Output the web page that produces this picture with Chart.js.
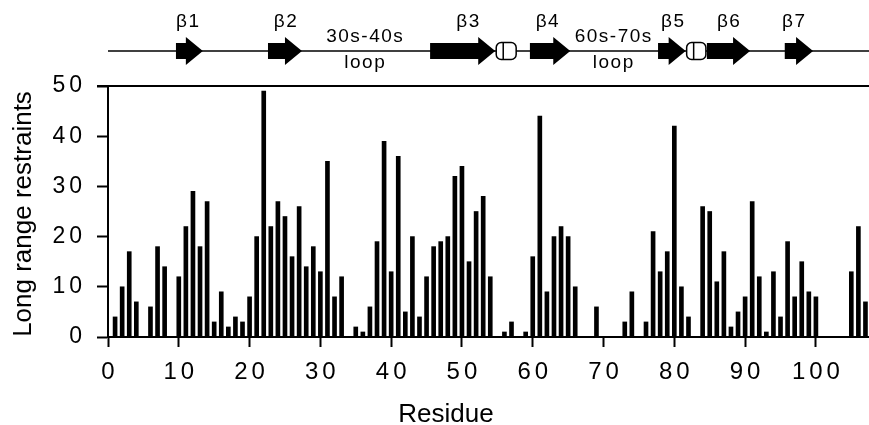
<!DOCTYPE html>
<html>
<head>
<meta charset="utf-8">
<script src="https://cdn.jsdelivr.net/npm/chart.js@4/dist/chart.umd.min.js"></script>
<style>
  body { margin: 0; background: #fff; }
</style>
</head>
<body>
<canvas id="chart" width="869" height="425"></canvas>
<script>
// residues with at least one long range restraint, and the counts
const residues = [1, 2, 3, 4, 6, 7, 8, 10, 11, 12, 13, 14, 15, 16, 17, 18, 19, 20,
  21, 22, 23, 24, 25, 26, 27, 28, 29, 30, 31, 32, 33, 35, 36, 37, 38, 39, 40,
  41, 42, 43, 44, 45, 46, 47, 48, 49, 50, 51, 52, 53, 54, 56, 57, 59, 60,
  61, 62, 63, 64, 65, 66, 69, 73, 74, 76, 77, 78, 79, 80,
  81, 82, 84, 85, 86, 87, 88, 89, 90, 91, 92, 93, 94, 95, 96, 97, 98, 99, 100,
  105, 106, 107];
const restraints = [4, 10, 17, 7, 6, 18, 14, 12, 22, 29, 18, 27, 3, 9, 2, 4, 3, 8,
  20, 49, 22, 27, 24, 16, 26, 14, 18, 13, 35, 8, 12, 2, 1, 6, 19, 39, 13,
  36, 5, 20, 4, 12, 18, 19, 20, 32, 34, 15, 25, 28, 12, 1, 3, 1, 16,
  44, 9, 20, 22, 20, 10, 6, 3, 9, 3, 21, 13, 17, 42,
  10, 4, 26, 25, 11, 17, 2, 5, 8, 27, 12, 1, 13, 4, 19, 8, 15, 9, 8,
  13, 22, 7];

// secondary structure (residue ranges, arrow tip at the end)
const strands = [[9.6, 13.4], [22.6, 27.4], [45.5, 54.7], [59.6, 65.3], [77.7, 81.6], [84.6, 90.7], [95.6, 99.6]];
const helices = [[54.7, 57.8], [81.6, 84.6]];
const strandLabels = ['β1', 'β2', 'β3', 'β4', 'β5', 'β6', 'β7'];
const strandLabelAt = [11.2, 25.0, 50.8, 62.0, 79.7, 87.6, 96.8];
const loopLabels = ['30s-40s', '60s-70s'];
const loopLabelAt = [36.2, 71.3];

const FONT = "'Liberation Sans', Arial, Helvetica, sans-serif";

const topology = {
  id: 'topology',
  beforeDraw(chart) {
    chart.ctx.letterSpacing = '4px';
  },
  afterDraw(chart) {
    const ctx = chart.ctx;
    const xs = chart.scales.x;
    const area = chart.chartArea;
    ctx.save();
    ctx.letterSpacing = '0px';

    // top frame line
    ctx.strokeStyle = '#000';
    ctx.lineWidth = 2;
    ctx.beginPath();
    ctx.moveTo(area.left - 11, area.top);
    ctx.lineTo(area.right, area.top);
    ctx.stroke();

    // axis titles
    ctx.fillStyle = '#000';
    ctx.font = '26px ' + FONT;
    ctx.textAlign = 'center';
    ctx.textBaseline = 'alphabetic';
    ctx.fillText('Residue', 446, 422);
    ctx.save();
    ctx.translate(31, 214);
    ctx.rotate(-Math.PI / 2);
    ctx.fillText('Long range restraints', 0, 0);
    ctx.restore();

    // backbone line
    const ly = 51;
    ctx.lineWidth = 1.5;
    ctx.beginPath();
    ctx.moveTo(xs.getPixelForValue(0), ly);
    ctx.lineTo(area.right, ly);
    ctx.stroke();

    // strands as arrows
    strands.forEach(([a, b]) => {
      const x0 = xs.getPixelForValue(a);
      const x1 = xs.getPixelForValue(b);
      const hx = x1 - 17;
      ctx.beginPath();
      ctx.moveTo(x0, ly - 8);
      ctx.lineTo(hx, ly - 8);
      ctx.lineTo(hx, ly - 14);
      ctx.lineTo(x1, ly);
      ctx.lineTo(hx, ly + 14);
      ctx.lineTo(hx, ly + 8);
      ctx.lineTo(x0, ly + 8);
      ctx.closePath();
      ctx.fill();
    });

    // helices as small cylinders
    helices.forEach(([a, b]) => {
      const x0 = xs.getPixelForValue(a) + 1;
      const x1 = xs.getPixelForValue(b) - 1;
      ctx.beginPath();
      ctx.roundRect(x0, ly - 8.5, x1 - x0, 17, 5);
      ctx.fillStyle = '#fff';
      ctx.fill();
      ctx.lineWidth = 1.5;
      ctx.stroke();
      ctx.beginPath();
      ctx.moveTo(x0 + 7, ly - 8.5);
      ctx.lineTo(x0 + 7, ly + 8.5);
      ctx.stroke();
      ctx.fillStyle = '#000';
    });

    // labels
    ctx.letterSpacing = '1.5px';
    ctx.font = '19px ' + FONT;
    strandLabels.forEach((t, i) => {
      ctx.fillText(t, xs.getPixelForValue(strandLabelAt[i]) + 1, 27);
    });
    loopLabels.forEach((t, i) => {
      const x = xs.getPixelForValue(loopLabelAt[i]) + 1;
      ctx.fillText(t, x, 42);
      ctx.fillText('loop', x, 68);
    });
    ctx.restore();
  }
};

new Chart(document.getElementById('chart'), {
  type: 'bar',
  data: {
    datasets: [{
      data: residues.map((r, i) => ({ x: r, y: restraints[i] })),
      backgroundColor: '#000',
      barThickness: 4
    }]
  },
  options: {
    responsive: false,
    animation: false,
    devicePixelRatio: 1,
    layout: { padding: { top: 86, right: 0, left: 0, bottom: 0 } },
    plugins: {
      legend: { display: false },
      tooltip: { enabled: false }
    },
    scales: {
      x: {
        type: 'linear',
        offset: false,
        min: 0,
        max: 107.5,
        afterFit(scale) { scale.height = 88; },
        ticks: {
          stepSize: 10,
          includeBounds: false,
          color: '#000',
          font: { family: FONT, size: 24 },
          padding: 11,
          labelOffset: 2,
          maxRotation: 0
        },
        grid: { offset: false, drawOnChartArea: false, tickLength: 10, tickWidth: 2, tickColor: '#000' },
        border: { color: '#000', width: 2 }
      },
      y: {
        min: 0,
        max: 50,
        afterFit(scale) { scale.width = 108; },
        ticks: {
          stepSize: 10,
          color: '#000',
          font: { family: FONT, size: 23 },
          padding: 11
        },
        grid: { drawOnChartArea: false, tickLength: 11, tickWidth: 2, tickColor: '#000' },
        border: { color: '#000', width: 2 }
      }
    }
  },
  plugins: [topology]
});
</script>
</body>
</html>
